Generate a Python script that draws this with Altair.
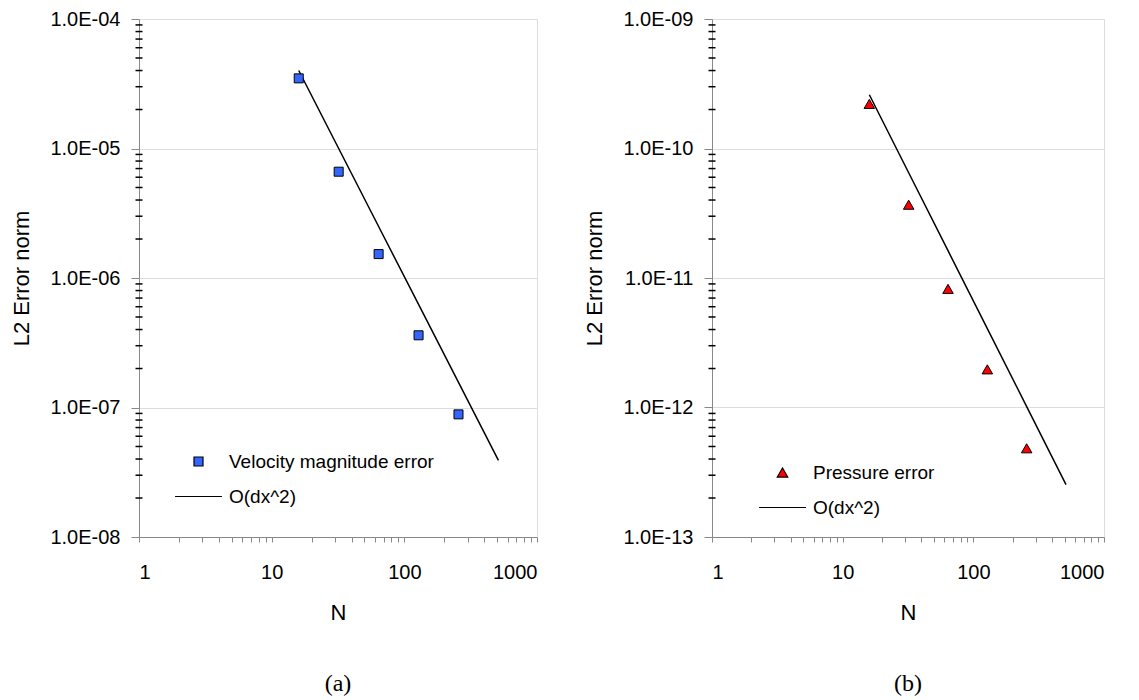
import altair as alt
import pandas as pd

# ---------------- data ----------------
N_pts = [16, 32, 64, 128, 256]
vel_err = [3.48e-5, 6.62e-6, 1.53e-6, 3.61e-7, 8.85e-8]
prs_err = [2.21e-10, 3.68e-11, 8.24e-12, 1.97e-12, 4.84e-13]

N_ref = [16, 32, 64, 128, 256, 512]
vel_ref = [4.0e-5, 1.0e-5, 2.5e-6, 6.25e-7, 1.5625e-7, 3.9e-8]
prs_ref = [2.6e-10, 6.5e-11, 1.625e-11, 4.06e-12, 1.016e-12, 2.54e-13]

x_decades = [1, 10, 100, 1000]
minor_mult = [2, 3, 4, 5, 6, 7, 8, 9]
y_decades_a = [1e-8, 1e-7, 1e-6, 1e-5, 1e-4]
y_decades_b = [1e-13, 1e-12, 1e-11, 1e-10, 1e-9]

LEG_A = "Velocity magnitude error"
LEG_B = "Pressure error"
LEG_LINE = "O(dx^2)"

FONT = "Liberation Sans"

x_ticks = sorted(x_decades + [m * d for d in x_decades[:-1] for m in minor_mult])


def minor_of(decades):
    return [m * d for d in decades[:-1] for m in minor_mult]


def panel(pts, ref, decades, legend_label, shape, fill, msize, width, height,
          leg_x, leg_y, row_pad, caption):
    xs = alt.Scale(type="log", domain=[1, 1000], nice=False)
    ys = alt.Scale(type="log", domain=[decades[0], decades[-1]], nice=False)

    x_axis = alt.Axis(
        values=x_ticks, format="d",
        labelExpr="(datum.value==1||datum.value==10||datum.value==100||datum.value==1000) ? datum.label : ''",
        labelOverlap=False, grid=False, tickSize=5, labelPadding=20,
        labelFontSize=20, title="N", titleFontSize=22, titlePadding=20,
        titleFontWeight="normal",
    )
    y_axis = alt.Axis(
        values=decades, grid=True, tickSize=8, labelPadding=11,
        labelExpr="'1.0E-' + (round(-log(datum.value)/LN10) < 10 ? '0' : '') + round(-log(datum.value)/LN10)",
        labelFontSize=20, title="L2 Error norm", titleFontSize=22, titlePadding=16,
        titleFontWeight="normal", labelOverlap=False,
    )

    df_pts = pd.DataFrame({"N": pts["N"], "err": pts["err"], "series": legend_label})
    df_ref = pd.DataFrame({"N": ref["N"], "err": ref["err"]})
    df_minor = pd.DataFrame({"err": minor_of(decades)})

    legend = alt.Legend(
        orient="none", legendX=leg_x, legendY=leg_y, title=None,
        labelFont=FONT, labelFontSize=19, labelColor="black", labelOffset=6,
        labelLimit=0, symbolStrokeColor="black", symbolStrokeWidth=1.2,
        symbolOpacity=1, rowPadding=row_pad,
    )
    dom = [legend_label, LEG_LINE]

    pts_layer = alt.Chart(df_pts).mark_point(
        filled=True, stroke="black", strokeWidth=1, opacity=1
    ).encode(
        x=alt.X("N:Q", scale=xs, axis=x_axis),
        y=alt.Y("err:Q", scale=ys, axis=y_axis),
        shape=alt.Shape("series:N", scale=alt.Scale(domain=dom, range=[shape, "stroke"]), legend=legend),
        fill=alt.Fill("series:N", scale=alt.Scale(domain=dom, range=[fill, "transparent"]), legend=legend),
        stroke=alt.Stroke("series:N", scale=alt.Scale(domain=dom, range=["black", "black"]), legend=legend),
        size=alt.Size("series:N", scale=alt.Scale(domain=dom, range=[msize, 2200]), legend=legend),
    )

    line_layer = alt.Chart(df_ref).mark_line(color="black", strokeWidth=1.5).encode(
        x=alt.X("N:Q", scale=xs),
        y=alt.Y("err:Q", scale=ys),
    )

    minor_layer = alt.Chart(df_minor).mark_tick(
        orient="horizontal", size=7, thickness=1.5, color="black", opacity=1
    ).encode(
        x=alt.value(0),
        y=alt.Y("err:Q", scale=ys),
    )

    return alt.layer(line_layer, pts_layer, minor_layer).properties(
        width=width, height=height,
        title=alt.TitleParams(caption, orient="bottom", font="Liberation Serif",
                              fontSize=24, fontWeight="normal", offset=49, anchor="middle",
                              color="black"),
    )


left = panel({"N": N_pts, "err": vel_err}, {"N": N_ref, "err": vel_ref}, y_decades_a,
             LEG_A, "square", "#3366ff", 81, 398, 518, 35, 433, 0, "(a)")
right = panel({"N": N_pts, "err": prs_err}, {"N": N_ref, "err": prs_ref}, y_decades_b,
              LEG_B, "triangle-up", "#ff0000", 110, 392, 518, 46, 444, -11, "(b)")

chart = alt.hconcat(left, right, spacing=175, bounds="flush").resolve_scale(
    shape="independent", fill="independent", stroke="independent", size="independent",
    x="independent", y="independent",
).resolve_legend(
    shape="independent", fill="independent", stroke="independent", size="independent",
).properties(
    padding={"left": 10, "top": 8, "right": 5, "bottom": 5},
).configure_view(stroke=None).configure_axis(
    labelFont=FONT, titleFont=FONT, labelColor="black", titleColor="black",
    domainColor="black", domainWidth=1.5, tickColor="black", tickWidth=1.5,
    gridColor="#c0c0c0", gridWidth=1.5,
).configure(background="white")

chart.save("out.html", embed_options={"renderer": "svg", "actions": False})
